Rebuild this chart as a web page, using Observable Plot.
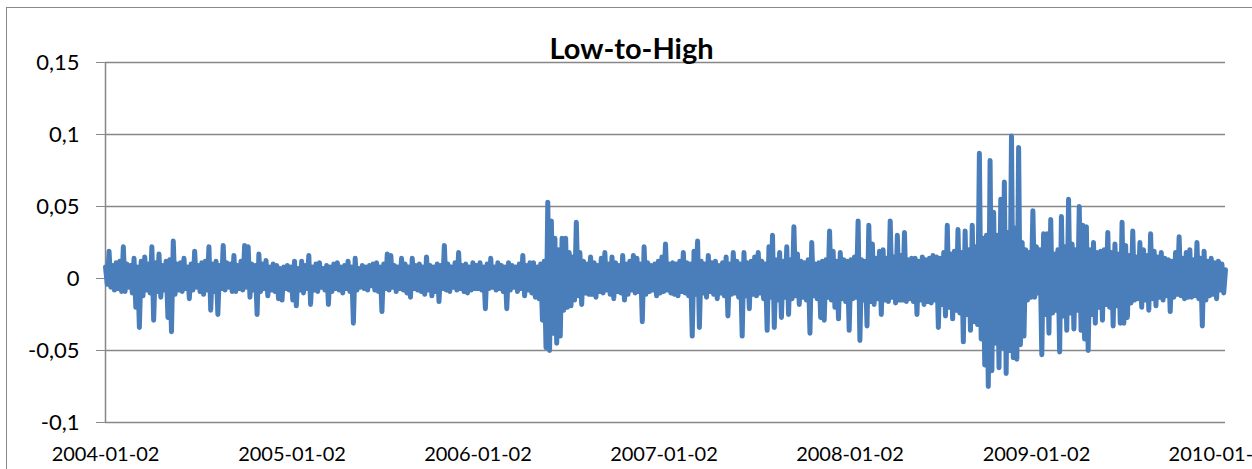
<!DOCTYPE html>
<html><head><meta charset="utf-8">
<script src="https://cdn.jsdelivr.net/npm/d3@7"></script>
<script src="https://cdn.jsdelivr.net/npm/@observablehq/plot@0.6"></script>
<style>
body{margin:0;background:#fff;}
#wrap{position:relative;width:1252px;height:469px;overflow:hidden;}
#border{position:absolute;left:6px;top:7px;width:1400px;height:600px;border:1.5px solid #888;}
#wrap svg{position:absolute;left:0;top:0;}
</style></head><body><div id="wrap"><div id="border"></div></div>
<script>
const title = "Low-to-High";
const startDate = "2004-01-02";
const endDate = "2010-01-08";
const yTicks = [-0.1, -0.05, 0, 0.05, 0.1, 0.15];
const xTickLabels = ["2004-01-02","2005-01-02","2006-01-02","2007-01-02","2008-01-02","2009-01-02","2010-01-02"];

// weekly high and low of the daily series, one array per year
const hi2004 = [.008,.019,.009,.011,.012,.022,.010,.009,.014,.008,.012,.015,.010,.022,.011,.017,.009,.012,.013,.026,.010,.011,.014,.008,.010,.019,.009,.011,.012,.022,.010,.012,.009,.023,.011,.010,.016,.009,.012,.023,.022,.010,.009,.017,.010,.0125,.008,.010,.009,.007,.008,.009];
const lo2004 = [-.004,-.006,-.008,-.007,-.009,-.009,-.006,-.010,-.020,-.034,-.012,-.008,-.010,-.029,-.009,-.013,-.008,-.027,-.037,-.011,-.008,-.009,-.007,-.014,-.008,-.006,-.009,-.011,-.008,-.022,-.009,-.025,-.007,-.008,-.006,-.009,-.009,-.007,-.008,-.006,-.013,-.008,-.025,-.009,-.007,-.012,-.008,-.009,-.014,-.015,-.007,-.008];
const hi2005 = [.008,.012,.007,.012,.009,.016,.008,.010,.011,.007,.009,.008,.010,.011,.008,.009,.012,.008,.014,.007,.009,.008,.009,.010,.011,.008,.010,.017,.016,.009,.008,.014,.010,.008,.014,.009,.010,.008,.015,.009,.008,.010,.009,.023,.010,.008,.011,.018,.009,.010,.008,.011];
const lo2005 = [-.015,-.019,-.008,-.010,-.007,-.018,-.008,-.009,-.006,-.008,-.018,-.009,-.007,-.008,-.010,-.007,-.009,-.031,-.008,-.006,-.007,-.008,-.005,-.008,-.009,-.023,-.007,-.008,-.006,-.009,-.007,-.008,-.010,-.013,-.007,-.008,-.009,-.011,-.008,-.012,-.009,-.016,-.007,-.008,-.009,-.006,-.008,-.007,-.009,-.010,-.008,-.007];
const hi2006 = [.009,.011,.008,.010,.014,.008,.011,.009,.008,.011,.009,.008,.010,.016,.009,.011,.011,.008,.010,.012,.053,.040,.028,.020,.028,.028,.018,.015,.039,.018,.012,.010,.015,.011,.009,.014,.018,.010,.015,.011,.009,.016,.010,.012,.016,.014,.010,.022,.011,.009,.010,.012];
const lo2006 = [-.007,-.008,-.021,-.007,-.006,-.008,-.007,-.009,-.021,-.008,-.006,-.009,-.007,-.012,-.008,-.010,-.013,-.014,-.029,-.048,-.050,-.038,-.045,-.040,-.022,-.020,-.019,-.015,-.012,-.018,-.010,-.011,-.011,-.013,-.009,-.010,-.008,-.011,-.014,-.009,-.010,-.015,-.011,-.008,-.010,-.009,-.030,-.011,-.009,-.008,-.012,-.010];
const hi2007 = [.015,.024,.010,.011,.010,.012,.018,.011,.010,.019,.026,.012,.010,.016,.011,.012,.009,.011,.015,.010,.018,.012,.010,.018,.011,.012,.015,.018,.012,.010,.022,.030,.013,.018,.012,.022,.013,.036,.017,.012,.011,.013,.025,.010,.011,.012,.013,.033,.019,.012,.018,.013];
const lo2007 = [-.009,-.008,-.010,-.011,-.012,-.009,-.010,-.012,-.040,-.011,-.034,-.010,-.013,-.009,-.011,-.014,-.010,-.012,-.026,-.011,-.010,-.013,-.040,-.012,-.021,-.011,-.012,-.010,-.014,-.036,-.013,-.034,-.015,-.027,-.013,-.025,-.014,-.012,-.018,-.013,-.015,-.038,-.012,-.014,-.027,-.029,-.013,-.015,-.020,-.028,-.014,-.016];
const hi2008 = [.012,.013,.015,.040,.013,.012,.037,.024,.014,.019,.020,.014,.040,.015,.030,.016,.032,.013,.014,.014,.012,.015,.013,.014,.016,.015,.014,.018,.037,.017,.019,.034,.018,.033,.020,.037,.022,.087,.028,.030,.082,.046,.030,.055,.067,.032,.099,.035,.091,.025,.020,.018];
const lo2008 = [-.036,-.014,-.013,-.043,-.015,-.033,-.016,-.018,-.014,-.025,-.015,-.016,-.013,-.017,-.015,-.015,-.016,-.014,-.016,-.025,-.015,-.018,-.016,-.017,-.015,-.034,-.018,-.026,-.020,-.028,-.022,-.024,-.044,-.025,-.036,-.030,-.032,-.042,-.060,-.075,-.064,-.045,-.062,-.048,-.066,-.050,-.055,-.056,-.046,-.040,-.015,-.013];
const hi2009 = [.047,.022,.020,.031,.031,.041,.017,.020,.043,.022,.055,.024,.020,.050,.037,.036,.020,.025,.018,.019,.020,.032,.018,.024,.017,.039,.023,.016,.033,.015,.025,.020,.016,.031,.019,.015,.018,.014,.013,.012,.018,.029,.014,.018,.020,.013,.025,.014,.019,.012,.014,.011];
const lo2009 = [-.013,-.010,-.053,-.025,-.038,-.024,-.022,-.051,-.026,-.036,-.024,-.035,-.022,-.036,-.042,-.050,-.025,-.031,-.020,-.029,-.018,-.020,-.033,-.019,-.031,-.031,-.027,-.017,-.015,-.014,-.020,-.015,-.022,-.014,-.019,-.013,-.015,-.012,-.023,-.013,-.011,-.012,-.014,-.013,-.013,-.012,-.014,-.033,-.015,-.012,-.011,-.014];
const hi2010 = [.012,.010,.006];
const lo2010 = [-.008,-.010];

const highs = [...hi2004, ...hi2005, ...hi2006, ...hi2007, ...hi2008, ...hi2009, ...hi2010];
const lows = [...lo2004, ...lo2005, ...lo2006, ...lo2007, ...lo2008, ...lo2009, ...lo2010];

const parse = d3.utcParse("%Y-%m-%d");
const start = parse(startDate);
const data = [];
highs.forEach((h, i) => {
  data.push({date: d3.utcHour.offset(start, 168 * i), value: h});
  if (i < lows.length) data.push({date: d3.utcHour.offset(start, 168 * i + 84), value: lows[i]});
});
const xTicks = xTickLabels.map(parse);
const fmtY = d => d === 0 ? "0" : String(d).replace(".", ",");
const fmtX = d3.utcFormat("%Y-%m-%d");

const chart = Plot.plot({
  width: 1252, height: 469,
  marginLeft: 105, marginRight: 27, marginTop: 62, marginBottom: 47,
  style: {fontFamily: "Lato, 'Open Sans', sans-serif", fontSize: "20px", color: "#000", background: "transparent"},
  x: {type: "utc", domain: [start, parse(endDate)]},
  y: {domain: [-0.1, 0.15]},
  marks: [
    Plot.gridY(yTicks, {stroke: "#878787", strokeOpacity: 1, strokeWidth: 1.5}),
    Plot.ruleX([start], {stroke: "#878787", strokeWidth: 1.5}),
    Plot.axisY({ticks: yTicks, tickFormat: fmtY, tickSize: 9, tickPadding: 17, stroke: "#878787", fill: "#000", fontSize: 22, label: null}),
    Plot.axisX({ticks: xTicks, tickFormat: fmtX, tickSize: 0, tickPadding: 24, fill: "#000", fontSize: 20, label: null}),
    Plot.line(data, {x: "date", y: "value", stroke: "#4A7EBB", strokeWidth: 5}),
    Plot.text([title], {frameAnchor: "top", lineAnchor: "bottom", dx: -34, dy: -4, fontWeight: "bold", fontSize: 29, fill: "#000"})
  ]
});
document.getElementById("wrap").appendChild(chart);
</script>
</body></html>
